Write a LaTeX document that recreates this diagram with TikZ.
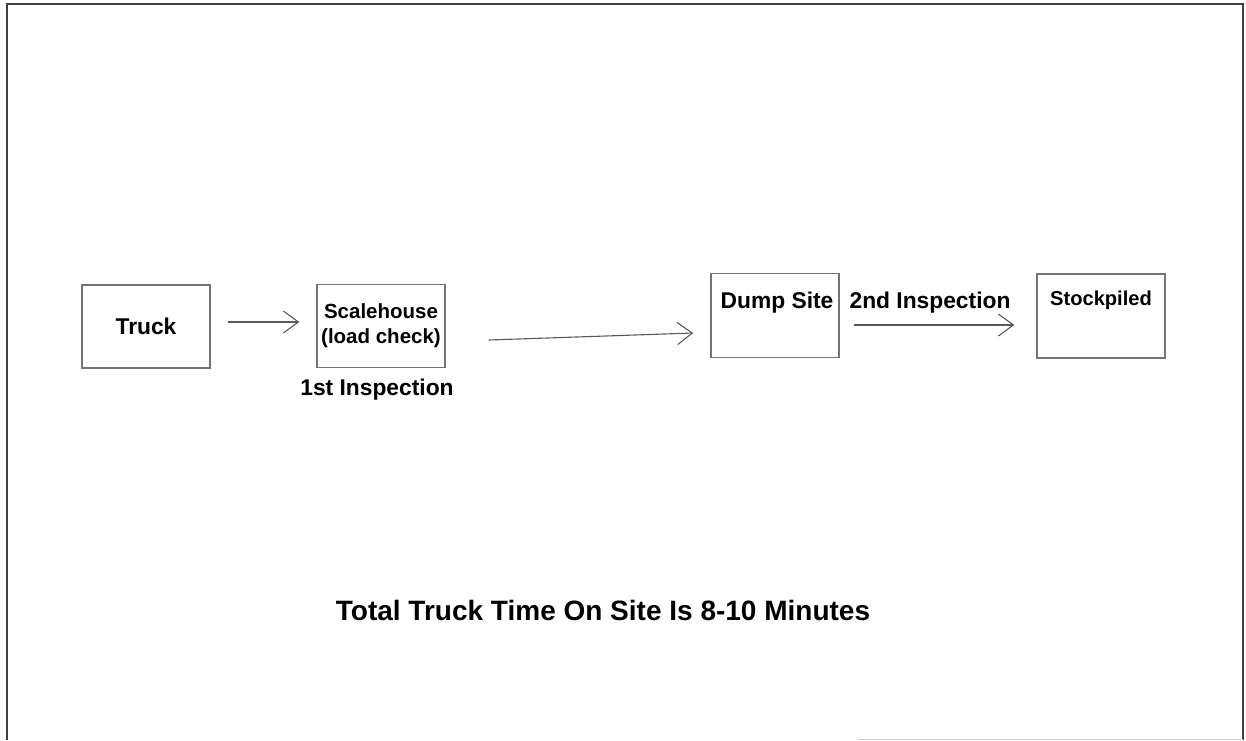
\documentclass[tikz,border=0pt]{standalone}
\usepackage{fontspec}
\setmainfont{Liberation Sans}
\usetikzlibrary{arrows.meta,positioning}

\begin{document}
\begin{tikzpicture}[x=1pt,y=-1pt,
    box/.style={draw=black!55,line width=1.4pt,minimum width=128pt,minimum height=83pt,inner sep=0pt},
    flow/.style={draw=black!65,line width=1.1pt,-{Straight Barb[length=15pt,width=22pt,line width=1.1pt]}},
    big/.style={font=\bfseries\fontsize{22.8}{26}\selectfont},
    small/.style={font=\bfseries\fontsize{20.5}{25}\selectfont,align=center}]
    \useasboundingbox (0,0) rectangle (1246,740);
    \draw[black!75,line width=2pt] (7,740) -- (7,4) -- (1243,4) -- (1243,740);
    \draw[black!20,line width=1pt] (858,739) -- (1243,739);
    \node[box,big] (truck) at (146,326.5) {Truck};
    \node[box,small] (scale) at (381,326) {Scalehouse\\(load check)};
    \node[box,minimum height=84pt] (dump) at (775,315.5) {};
    \node[box,minimum height=84pt] (stock) at (1101,316) {};
    \node[big,below=7pt of scale,xshift=-4pt] (first) {1st Inspection};
    \node[big,anchor=north] (dumplabel) at ([xshift=2pt,yshift=-16pt]dump.north) {Dump Site};
    \node[small,font=\bfseries\fontsize{20.1}{24}\selectfont,anchor=north] (stocklabel) at ([yshift=-14pt]stock.north) {Stockpiled};
    \draw[flow] ([xshift=17pt]truck.east |- 0,322) -- ([xshift=-17pt]scale.west |- 0,322);
    \draw[flow] ([xshift=43pt,yshift=-14pt]scale.east) -- ([xshift=-17pt,yshift=-17.5pt]dump.west);
    \draw[flow] ([xshift=14pt,yshift=-9.5pt]dump.east) -- ([xshift=-22pt,yshift=-9pt]stock.west)
        node[midway,above=8pt,big,xshift=-4pt] (second) {2nd Inspection};
    \node[font=\bfseries\fontsize{28}{32}\selectfont] (total) at (603,610) {Total Truck Time On Site Is 8-10 Minutes};
\end{tikzpicture}
\end{document}
